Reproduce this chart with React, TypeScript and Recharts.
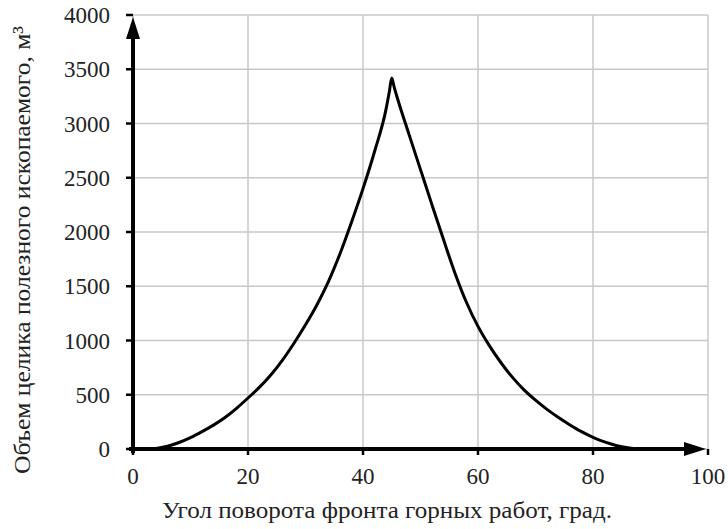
import React from "react";
import {
  LineChart,
  Line,
  XAxis,
  YAxis,
  CartesianGrid,
  ReferenceLine,
  Label,
} from "recharts";

// угол поворота фронта, град.
const angles = [
  0, 2, 4, 6, 8, 10, 12, 14, 16, 18, 20, 22, 24, 26, 28, 30, 32, 34, 36, 38,
  40, 42, 44, 44.6, 45, 45.4, 46, 48, 50, 52, 54, 56, 58, 60, 62, 64, 66, 68,
  70, 72, 74, 76, 78, 80, 82, 84, 86, 88, 90,
];
// объем целика, м3
const volumes = [
  0, 0, 5, 25, 60, 105, 160, 220, 290, 375, 470, 570, 685, 820, 975, 1145,
  1330, 1545, 1800, 2090, 2400, 2740, 3130, 3300, 3420, 3340, 3230, 2900, 2575,
  2250, 1930, 1620, 1350, 1130, 950, 795, 660, 545, 450, 365, 290, 222, 160,
  108, 65, 33, 12, 2, 0,
];

const xTicks = [0, 20, 40, 60, 80, 100];
const yTicks = [0, 500, 1000, 1500, 2000, 2500, 3000, 3500, 4000];

const data = angles.map((a, i) => ({ angle: a, volume: volumes[i] }));

const FONT = "Liberation Serif";
const TEXT = "#222";

function ArrowLine(props: any) {
  const { x1, y1, x2, y2 } = props;
  const dx = x2 - x1;
  const dy = y2 - y1;
  const len = Math.sqrt(dx * dx + dy * dy) || 1;
  const ux = dx / len;
  const uy = dy / len;
  // a bit past the origin, tip just short of the end
  const sx = x1 - ux * 4;
  const sy = y1 - uy * 4;
  const tx = x2 - ux * 2;
  const ty = y2 - uy * 2;
  const head = 22;
  const half = 7;
  const bx = tx - ux * head;
  const by = ty - uy * head;
  const px = -uy * half;
  const py = ux * half;
  return (
    <g>
      <line x1={sx} y1={sy} x2={bx + ux * 4} y2={by + uy * 4} stroke="#000" strokeWidth={4} />
      <polygon
        points={`${tx},${ty} ${bx + px},${by + py} ${bx - px},${by - py}`}
        fill="#000"
      />
    </g>
  );
}

export default function App() {
  return (
    <div style={{ width: 728, height: 529, background: "#fff" }}>
      <style>{"body{margin:0}"}</style>
      <LineChart
        width={728}
        height={529}
        data={data}
        margin={{ top: 15, right: 20, bottom: 30, left: 0 }}
      >
        <CartesianGrid stroke="#c8c8c8" strokeWidth={1.5} />
        <XAxis
          dataKey="angle"
          type="number"
          domain={[0, 100]}
          ticks={xTicks}
          height={50}
          axisLine={false}
          tickSize={6}
          tickMargin={13}
          tickLine={{ stroke: "#000", strokeWidth: 2.5 }}
          tick={{ fill: TEXT, fontSize: 23, fontFamily: FONT }}
        >
          <Label
            content={() => (
              <text
                x={387}
                y={518}
                textAnchor="middle"
                fill={TEXT}
                fontSize={24}
                fontFamily={FONT}
                textLength={450}
                lengthAdjust="spacingAndGlyphs"
              >
                Угол поворота фронта горных работ, град.
              </text>
            )}
          />
        </XAxis>
        <YAxis
          type="number"
          domain={[0, 4000]}
          ticks={yTicks}
          width={133}
          axisLine={false}
          tickSize={7}
          tickMargin={16}
          tickLine={{ stroke: "#000", strokeWidth: 2.5 }}
          tick={{ fill: TEXT, fontSize: 23, fontFamily: FONT }}
        >
          <Label
            content={() => (
              <text
                x={30}
                y={250}
                transform="rotate(-90, 30, 250)"
                textAnchor="middle"
                fill={TEXT}
                fontSize={24}
                fontFamily={FONT}
                textLength={448}
                lengthAdjust="spacingAndGlyphs"
              >
                Объем целика  полезного ископаемого, м³
              </text>
            )}
          />
        </YAxis>
        <Line
          dataKey="volume"
          type="monotone"
          stroke="#000"
          strokeWidth={3}
          dot={false}
          activeDot={false}
          isAnimationActive={false}
        />
        <ReferenceLine
          segment={[
            { x: 0, y: 0 },
            { x: 100, y: 0 },
          ]}
          ifOverflow="visible"
          shape={ArrowLine}
        />
        <ReferenceLine
          segment={[
            { x: 0, y: 0 },
            { x: 0, y: 4000 },
          ]}
          ifOverflow="visible"
          shape={ArrowLine}
        />
      </LineChart>
    </div>
  );
}
